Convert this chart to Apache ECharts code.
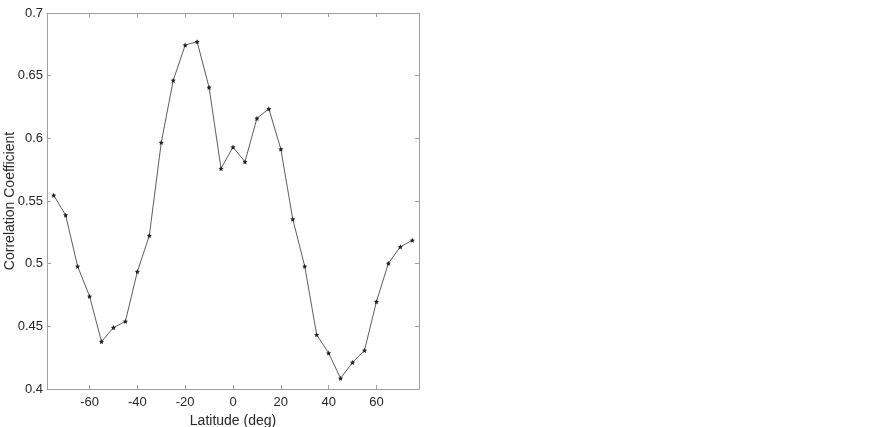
<!DOCTYPE html>
<html>
<head>
<meta charset="utf-8">
<script src="https://cdn.jsdelivr.net/npm/echarts@6/dist/echarts.min.js"></script>
<style>
  html, body { margin: 0; padding: 0; background: #fff; }
  #main { width: 872px; height: 427px; }
</style>
</head>
<body>
<div id="main"></div>
<script>
// latitude bins (deg)
var latitudes = [-75, -70, -65, -60, -55, -50, -45, -40, -35, -30, -25, -20, -15, -10, -5,
  0, 5, 10, 15, 20, 25, 30, 35, 40, 45, 50, 55, 60, 65, 70, 75];
// correlation coefficient per latitude
var correlation = [0.5546, 0.5387, 0.4979, 0.4740, 0.4378, 0.4490, 0.4540, 0.4937, 0.5224,
  0.5967, 0.6462, 0.6744, 0.6771, 0.6406, 0.5759, 0.5930, 0.5813, 0.6159, 0.6236, 0.5914,
  0.5355, 0.4979, 0.4433, 0.4287, 0.4085, 0.4212, 0.4308, 0.4697, 0.5003, 0.5134, 0.5187];
var xTicks = [-60, -40, -20, 0, 20, 40, 60];

var points = latitudes.map(function (lat, i) { return [lat, correlation[i]]; });

var myChart = echarts.init(document.getElementById("main"));
var axisColor = "#a0a0a0";
var fontFam = "Liberation Sans, Arial, sans-serif";
var labelStyle = { color: "#262626", fontSize: 13, fontFamily: fontFam };
var nameStyle = { color: "#262626", fontSize: 14, fontFamily: fontFam };
var starPath = "path://M0,-10L2.9,-4 9.5,-3.1 4.7,1.5 5.9,8.1 0,5 -5.9,8.1 -4.7,1.5 -9.5,-3.1 -2.9,-4Z";

var option = {
  animation: false,
  grid: { left: 47, top: 13, right: 453, bottom: 38, outerBoundsMode: "none", containLabel: false },
  xAxis: [
    {
      type: "value",
      min: -77.8,
      max: 77.8,
      name: "Latitude (deg)",
      nameLocation: "middle",
      nameGap: 23,
      nameTextStyle: nameStyle,
      axisLine: { show: true, onZero: false, lineStyle: { color: axisColor } },
      axisTick: { inside: true, length: 4, customValues: xTicks, lineStyle: { color: axisColor } },
      axisLabel: Object.assign({ customValues: xTicks, margin: 7 }, labelStyle),
      splitLine: { show: false }
    },
    {
      type: "value",
      position: "top",
      min: -77.8,
      max: 77.8,
      axisLine: { show: true, onZero: false, lineStyle: { color: axisColor } },
      axisTick: { inside: true, length: 4, customValues: xTicks, lineStyle: { color: axisColor } },
      axisLabel: { show: false },
      splitLine: { show: false }
    }
  ],
  yAxis: [
    {
      type: "value",
      min: 0.4,
      max: 0.7,
      interval: 0.05,
      name: "Correlation Coefficient",
      nameLocation: "middle",
      nameGap: 30,
      nameMoveOverlap: false,
      nameTextStyle: nameStyle,
      axisLine: { show: true, onZero: false, lineStyle: { color: axisColor } },
      axisTick: { inside: true, length: 4, lineStyle: { color: axisColor } },
      axisLabel: Object.assign({ margin: 4, formatter: function (v) { return +v.toFixed(2) + ""; } }, labelStyle),
      splitLine: { show: false }
    },
    {
      type: "value",
      position: "right",
      min: 0.4,
      max: 0.7,
      interval: 0.05,
      axisLine: { show: true, onZero: false, lineStyle: { color: axisColor } },
      axisTick: { inside: true, length: 4, lineStyle: { color: axisColor } },
      axisLabel: { show: false },
      splitLine: { show: false }
    }
  ],
  series: [
    {
      type: "line",
      data: points,
      symbol: starPath,
      symbolSize: 5,
      showAllSymbol: true,
      lineStyle: { color: "#333", width: 0.8 },
      itemStyle: { color: "#222" }
    }
  ]
};
myChart.setOption(option);
</script>
</body>
</html>
